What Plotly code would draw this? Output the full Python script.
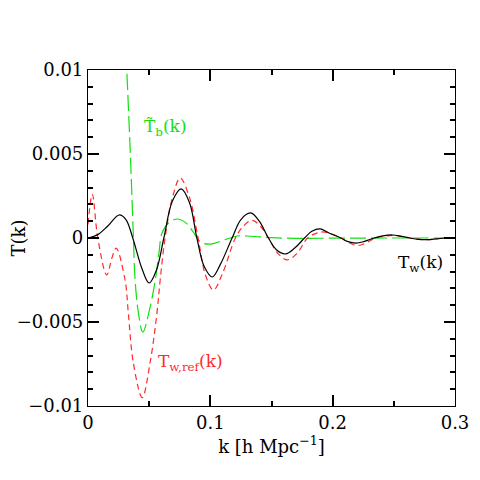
import plotly.graph_objects as go

# ---- data ----
k_w = [0, 0.008, 0.016, 0.0254, 0.031, 0.0366, 0.044, 0.050, 0.056, 0.062, 0.069, 0.0762,
       0.083, 0.089, 0.095, 0.1016, 0.108, 0.1178, 0.125, 0.133, 0.140, 0.1475, 0.154, 0.1615,
       0.169, 0.177, 0.183, 0.190, 0.197, 0.2066, 0.212, 0.219, 0.226, 0.234, 0.241, 0.249,
       0.256, 0.263, 0.270, 0.277, 0.285, 0.292, 0.3]
T_w = [0, 0.0002, 0.0007, 0.00137, 0.0011, 0.0, -0.0018, -0.00268, -0.0019, 0.0, 0.0022, 0.00292,
       0.0021, 0.0, -0.0017, -0.00232, -0.0016, 0.0, 0.0011, 0.00149, 0.0010, 0.0, -0.0007, -0.00095,
       -0.0006, 0.0, 0.0004, 0.00054, 0.0003, 0.0, -0.0002, -0.0003, -0.0002, 0.0, 0.00013, 0.00018,
       0.0001, 0.0, -0.00008, -0.0001, -0.00005, 0.0, 0.00002]

k_ref = [0, 0.0035, 0.008, 0.0153, 0.0195, 0.023, 0.0303, 0.033, 0.037, 0.0443, 0.0508, 0.0563,
         0.059, 0.063, 0.069, 0.0754, 0.083, 0.090, 0.096, 0.1025, 0.110, 0.1205, 0.127, 0.134,
         0.141, 0.1475, 0.155, 0.163, 0.171, 0.1795, 0.186, 0.192, 0.199, 0.207, 0.214, 0.2205,
         0.227, 0.235, 0.242, 0.249, 0.256, 0.263, 0.270, 0.277, 0.285, 0.292, 0.3]
T_ref = [0.0008, 0.0026, 0.0, -0.0022, -0.0012, -0.0006, -0.0025, -0.0045, -0.0074, -0.0095, -0.0074,
         -0.0045, -0.0025, 0.0, 0.0024, 0.00357, 0.0024, 0.0, -0.0022, -0.0031, -0.0021, 0.0, 0.0007,
         0.00105, 0.0007, 0.0, -0.0009, -0.0013, -0.0009, 0.0, 0.00026, 0.00036, 0.00025, 0.0, -0.0003,
         -0.00045, -0.0003, 0.0, 0.0001, 0.00015, 0.0001, 0.0, -0.00007, -0.0001, -0.00005, 0.0, 0.00002]

k_b = [0.027, 0.030, 0.0317, 0.0345, 0.037, 0.0385, 0.0413, 0.0448, 0.0508, 0.055, 0.058, 0.0605,
       0.066, 0.073, 0.080, 0.086, 0.092, 0.100, 0.112, 0.122, 0.130, 0.140, 0.150, 0.170, 0.200,
       0.250, 0.3]
T_b = [0.016, 0.0128, 0.010, 0.0052, 0.0003, -0.0025, -0.0045, -0.0056, -0.0041, -0.0025, -0.0009,
       0.0003, 0.0009, 0.00113, 0.0009, 0.00036, -0.00024, -0.00036, -0.0001, 0.00012, 0.00012,
       0.00007, 0.00002, -0.00002, -0.00001, 0.0, 0.0]

x_tickvals = [0, 0.1, 0.2, 0.3]
x_ticktext = ["0", "0.1", "0.2", "0.3"]
y_tickvals = [0.01, 0.005, 0, -0.005, -0.01]
y_ticktext = ["0.01", "0.005", "0", "\u22120.005", "\u22120.01"]

FONT = "DejaVu Serif"
GREEN = "#11e011"
RED = "#ff2a2a"

fig = go.Figure()
fig.add_trace(go.Scatter(x=k_b, y=T_b, mode="lines", line=dict(color=GREEN, width=1.2, dash="16px,5px", shape="spline"), showlegend=False))
fig.add_trace(go.Scatter(x=k_ref, y=T_ref, mode="lines", line=dict(color=RED, width=1.2, dash="6px,4px", shape="spline"), showlegend=False))
fig.add_trace(go.Scatter(x=k_w, y=T_w, mode="lines", line=dict(color="black", width=1.2, shape="spline"), showlegend=False))

fig.add_annotation(x=0.0634, y=0.0066, text="T\u0303<sub>b</sub>(k)", showarrow=False, font=dict(family=FONT, size=17, color=GREEN))
fig.add_annotation(x=0.272, y=-0.00149, text="T<sub>w</sub>(k)", showarrow=False, font=dict(family=FONT, size=17, color="black"))
fig.add_annotation(x=0.0836, y=-0.0074, text="T<sub>w,ref</sub>(k)", showarrow=False, font=dict(family=FONT, size=17, color=RED))

axis_common = dict(showline=True, linecolor="black", linewidth=1.2, mirror="allticks", ticks="inside",
                   ticklen=11, tickwidth=1.5, tickcolor="#000000",
                   showgrid=False, zeroline=False, automargin=False,
                   tickfont=dict(family=FONT, size=18, color="black"))

fig.update_xaxes(range=[0, 0.3], tickmode="array", tickvals=x_tickvals, ticktext=x_ticktext,
                 minor=dict(dtick=0.05, tick0=0, ticks="inside", ticklen=5, tickwidth=1.5, tickcolor="#000000"),
                 title=dict(text="k [h Mpc<sup>\u22121</sup>]", font=dict(family=FONT, size=18, color="black"), standoff=8),
                 **axis_common)
fig.update_yaxes(range=[-0.01, 0.01], tickmode="array", tickvals=y_tickvals, ticktext=y_ticktext,
                 minor=dict(dtick=0.001, tick0=0, ticks="inside", ticklen=5, tickwidth=1.5, tickcolor="#000000"),
                 title=dict(text="T(k)", font=dict(family=FONT, size=18, color="black"), standoff=14),
                 **axis_common)

fig.update_layout(template="none", width=480, height=480, margin=dict(l=80, r=33, t=62, b=82),
                  plot_bgcolor="white", paper_bgcolor="white")

fig.write_html("out.html")
